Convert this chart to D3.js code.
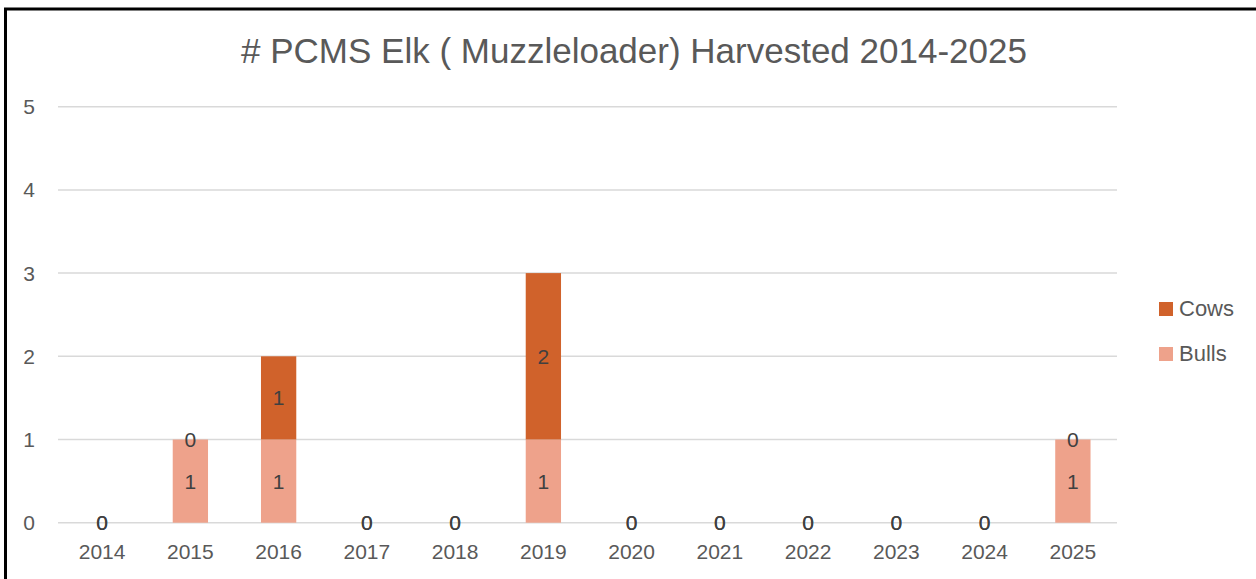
<!DOCTYPE html>
<html>
<head>
<meta charset="utf-8">
<script src="https://cdn.jsdelivr.net/npm/d3@7"></script>
<style>
  html, body { margin: 0; padding: 0; background: #fff; overflow: hidden; }
  text { font-family: "Liberation Sans", Arial, sans-serif; }
</style>
</head>
<body>
<svg id="chart"></svg>
<script>
// Data
const years = ["2014", "2015", "2016", "2017", "2018", "2019", "2020", "2021", "2022", "2023", "2024", "2025"];
const bulls = [0, 1, 1, 0, 0, 1, 0, 0, 0, 0, 0, 1];
const cows = [0, 0, 1, 0, 0, 2, 0, 0, 0, 0, 0, 0];
const yTicks = [0, 1, 2, 3, 4, 5];
const seriesNames = ["Bulls", "Cows"];
const seriesColors = ["#EEA28B", "#D0622B"];

const width = 1256, height = 579;
const svg = d3.select("#chart").attr("width", width).attr("height", height);

// Frame around the chart (runs off right and bottom edge)
svg.append("rect")
  .attr("x", 5.5).attr("y", 9)
  .attr("width", width + 20).attr("height", height + 20)
  .attr("fill", "none").attr("stroke", "#000").attr("stroke-width", 3);

// Title
svg.append("text")
  .attr("x", 634).attr("y", 63)
  .attr("text-anchor", "middle")
  .attr("fill", "#595959")
  .attr("font-size", "35px")
  .text("# PCMS Elk ( Muzzleloader) Harvested 2014-2025");

const plot = { left: 58, right: 1117, top: 106.7, bottom: 522.7 };

const x = d3.scaleBand()
  .domain(years)
  .range([plot.left, plot.right])
  .paddingInner(0.6)
  .paddingOuter(0.3);

const y = d3.scaleLinear()
  .domain([0, 5])
  .range([plot.bottom, plot.top]);

// Gridlines
svg.append("g")
  .selectAll("line")
  .data(yTicks)
  .join("line")
  .attr("x1", plot.left).attr("x2", plot.right)
  .attr("y1", d => y(d)).attr("y2", d => y(d))
  .attr("stroke", "#D9D9D9").attr("stroke-width", 1.5);

// Y labels
svg.append("g")
  .selectAll("text")
  .data(yTicks)
  .join("text")
  .attr("x", 29).attr("y", d => y(d))
  .attr("dy", "0.36em")
  .attr("text-anchor", "middle")
  .attr("fill", "#595959")
  .attr("font-size", "21px")
  .text(d => d);

// X labels
svg.append("g")
  .selectAll("text")
  .data(years)
  .join("text")
  .attr("x", d => x(d) + x.bandwidth() / 2)
  .attr("y", 559)
  .attr("text-anchor", "middle")
  .attr("fill", "#595959")
  .attr("font-size", "21px")
  .text(d => d);

// Stack
const rows = years.map((yr, i) => ({ year: yr, Bulls: bulls[i], Cows: cows[i] }));
const stacked = d3.stack().keys(seriesNames)(rows);

const layers = svg.append("g")
  .selectAll("g")
  .data(stacked)
  .join("g")
  .attr("fill", (d, i) => seriesColors[i]);

layers.selectAll("rect")
  .data(d => d)
  .join("rect")
  .attr("x", d => x(d.data.year))
  .attr("width", x.bandwidth())
  .attr("y", d => y(d[1]))
  .attr("height", d => y(d[0]) - y(d[1]));

// Data labels (centered in each segment)
const labels = svg.append("g");
stacked.forEach(layer => {
  labels.selectAll(null)
    .data(layer)
    .join("text")
    .attr("x", d => x(d.data.year) + x.bandwidth() / 2)
    .attr("y", d => y((d[0] + d[1]) / 2))
    .attr("dy", "0.36em")
    .attr("text-anchor", "middle")
    .attr("fill", "#404040")
    .attr("font-size", "21px")
    .text(d => d[1] - d[0]);
});

// Legend
const legendItems = [
  { name: "Cows", color: seriesColors[1], y: 309 },
  { name: "Bulls", color: seriesColors[0], y: 354 }
];
const legend = svg.append("g");
legend.selectAll("rect")
  .data(legendItems)
  .join("rect")
  .attr("x", 1159).attr("y", d => d.y - 7)
  .attr("width", 14).attr("height", 14)
  .attr("fill", d => d.color);
legend.selectAll("text")
  .data(legendItems)
  .join("text")
  .attr("x", 1179).attr("y", d => d.y + 7)
  .attr("fill", "#595959")
  .attr("font-size", "22px")
  .text(d => d.name);
</script>
</body>
</html>
